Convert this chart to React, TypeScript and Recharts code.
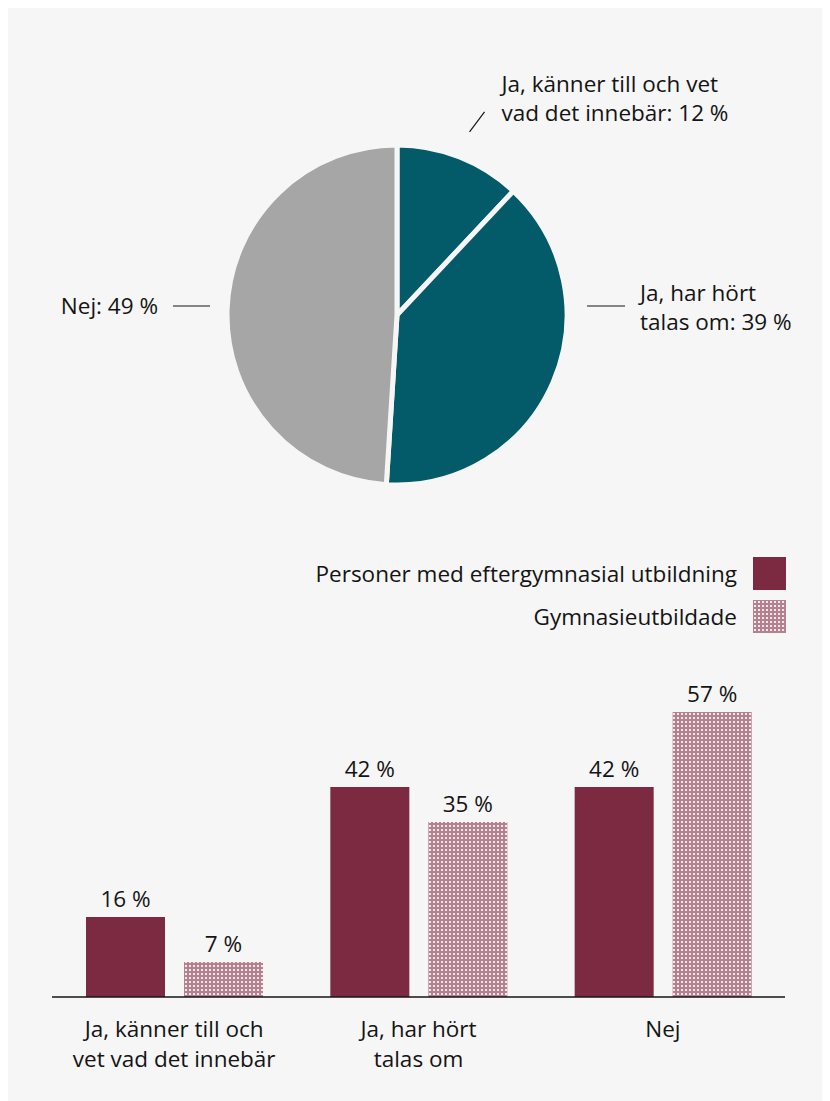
import React from "react";
import { PieChart, Pie, Cell, BarChart, Bar, XAxis, YAxis, LabelList } from "recharts";

const pieNames = ["Ja, känner till och vet vad det innebär", "Ja, har hört talas om", "Nej"];
const pieValues = [12, 39, 49];
const pieLabelLines = [["Ja, känner till och vet", "vad det innebär: 12 %"], ["Ja, har hört", "talas om: 39 %"], ["Nej: 49 %"]];
const pieColors = ["#035a69", "#035a69", "#a6a6a6"];

const barCategories = ["Ja, känner till och vet vad det innebär", "Ja, har hört talas om", "Nej"];
const barTickLines = [["Ja, känner till och", "vet vad det innebär"], ["Ja, har hört", "talas om"], ["Nej"]];
const eftergymnasial = [16, 42, 42];
const gymnasie = [7, 35, 57];
const seriesNames = ["Personer med eftergymnasial utbildning", "Gymnasieutbildade"];

const FONT = "'Open Sans', sans-serif";
const TEXT = "#141414";
const BG = "#f6f6f6";
const MAROON = "#7b2a41";
const PINK = "#b5808f";
const FS = 22.5;

const pieData = pieNames.map((n, i) => ({ name: n, value: pieValues[i] }));
const barData = barCategories.map((c, i) => ({ cat: c, a: eftergymnasial[i], b: gymnasie[i], idx: i }));

const RAD = Math.PI / 180;

function PieLabel(props: any) {
  const { cx, cy, midAngle, outerRadius, index } = props;
  const lines = pieLabelLines[index];
  if (index === 0) {
    const r = outerRadius + 27;
    const x1 = cx + r * Math.cos(-midAngle * RAD);
    const y1 = cy + r * Math.sin(-midAngle * RAD);
    const x2 = x1 + 15;
    const y2 = y1 - 20;
    return (
      <g>
        <line x1={x1} y1={y1} x2={x2} y2={y2} stroke={TEXT} strokeWidth={1.2} />
        <text x={x2 + 17} y={y2 - 28} dominantBaseline="central" fontSize={FS} fill={TEXT} fontFamily={FONT}>{lines[0]}</text>
        <text x={x2 + 17} y={y2 + 1} dominantBaseline="central" fontSize={FS} fill={TEXT} fontFamily={FONT}>{lines[1]}</text>
      </g>
    );
  }
  if (index === 1) {
    const y = cy - 9;
    return (
      <g>
        <line x1={cx + outerRadius + 20} y1={y} x2={cx + outerRadius + 58} y2={y} stroke={TEXT} strokeWidth={1.2} />
        <text x={cx + outerRadius + 73} y={y - 14} dominantBaseline="central" fontSize={FS} fill={TEXT} fontFamily={FONT}>{lines[0]}</text>
        <text x={cx + outerRadius + 73} y={y + 15} dominantBaseline="central" fontSize={FS} fill={TEXT} fontFamily={FONT}>{lines[1]}</text>
      </g>
    );
  }
  const y = cy - 9;
  return (
    <g>
      <line x1={cx - outerRadius - 54} y1={y} x2={cx - outerRadius - 17} y2={y} stroke={TEXT} strokeWidth={1.2} />
      <text x={cx - outerRadius - 69} y={y - 1} dominantBaseline="central" textAnchor="end" fontSize={FS} fill={TEXT} fontFamily={FONT}>{lines[0]}</text>
    </g>
  );
}

function CatTick(props: any) {
  const { x, y, index } = props;
  const lines = barTickLines[index] || [];
  return (
    <g>
      {lines.map((l, i) => (
        <text key={i} x={x} y={y + 23 + i * 30} textAnchor="middle" dominantBaseline="central" fontSize={FS} fill={TEXT} fontFamily={FONT}>{l}</text>
      ))}
    </g>
  );
}

function PatternSwatch({ id, size }: { id: string; size: number }) {
  return (
    <svg width={size} height={size} style={{ display: "block" }}>
      <defs>
        <pattern id={id} width={4} height={4} patternUnits="userSpaceOnUse">
          <rect width={4} height={4} fill={PINK} />
          <rect x={1} y={1} width={2} height={2} fill="#f4e9ec" />
        </pattern>
      </defs>
      <rect width={size} height={size} fill={`url(#${id})`} />
    </svg>
  );
}

export default function App() {
  return (
    <div style={{ position: "relative", width: 822, height: 1093, background: BG, fontFamily: FONT, color: TEXT }}>
      <div style={{ position: "absolute", left: 0, top: 0 }}>
        <PieChart width={822} height={520} margin={{ top: 0, right: 0, bottom: 0, left: 0 }}>
          <Pie
            data={pieData}
            dataKey="value"
            nameKey="name"
            cx={389}
            cy={307}
            outerRadius={170}
            startAngle={90}
            endAngle={-270}
            stroke={BG}
            strokeWidth={5}
            label={PieLabel}
            labelLine={false}
            isAnimationActive={false}
          >
            {pieData.map((d, i) => (
              <Cell key={i} fill={pieColors[i]} />
            ))}
          </Pie>
        </PieChart>
      </div>

      <div style={{ position: "absolute", right: 44, top: 549 }}>
        {seriesNames.map((n, i) => (
          <div key={n} style={{ display: "flex", alignItems: "center", justifyContent: "flex-end", height: 33, marginBottom: 10 }}>
            <span style={{ fontSize: FS, marginRight: 16, whiteSpace: "nowrap" }}>{n}</span>
            {i === 0 ? (
              <div style={{ width: 33, height: 33, background: MAROON }} />
            ) : (
              <PatternSwatch id="legpat" size={33} />
            )}
          </div>
        ))}
      </div>

      <div style={{ position: "absolute", left: 0, top: 532 }}>
        <BarChart width={822} height={561} data={barData} margin={{ top: 157, right: 45, left: 44, bottom: 24 }} barSize={79} barGap={19}>
          <defs>
            <pattern id="barpat" width={4} height={4} patternUnits="userSpaceOnUse">
              <rect width={4} height={4} fill={PINK} />
              <rect x={1} y={1} width={2} height={2} fill="#f4e9ec" />
            </pattern>
          </defs>
          <XAxis dataKey="cat" axisLine={{ stroke: TEXT, strokeWidth: 1.3 }} tickLine={false} tick={<CatTick />} height={80} interval={0} />
          <YAxis hide domain={[0, 60]} />
          <Bar dataKey="a" name={seriesNames[0]} fill={MAROON} isAnimationActive={false}>
            <LabelList dataKey="a" position="top" offset={10} formatter={(v: any) => `${v} %`} style={{ fontSize: FS, fill: TEXT, fontFamily: FONT }} />
          </Bar>
          <Bar dataKey="b" name={seriesNames[1]} fill="url(#barpat)" isAnimationActive={false}>
            <LabelList dataKey="b" position="top" offset={10} formatter={(v: any) => `${v} %`} style={{ fontSize: FS, fill: TEXT, fontFamily: FONT }} />
          </Bar>
        </BarChart>
      </div>
    </div>
  );
}
